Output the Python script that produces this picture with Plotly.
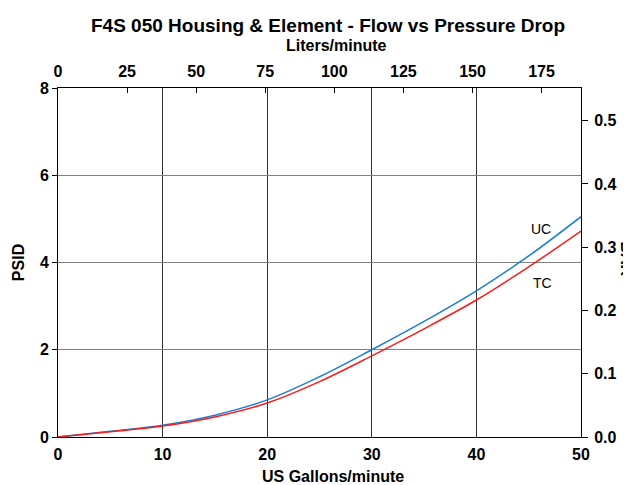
import plotly.graph_objects as go

# Data (US gallons/minute vs PSID)
gpm = [0, 5, 10, 15, 20, 25, 30, 35, 40, 45, 50]
uc_psid = [0, 0.13, 0.27, 0.50, 0.85, 1.38, 2.00, 2.65, 3.35, 4.15, 5.05]
tc_psid = [0, 0.12, 0.25, 0.46, 0.78, 1.27, 1.86, 2.48, 3.14, 3.90, 4.72]

bottom_ticks = [0, 10, 20, 30, 40, 50]
left_ticks = [0, 2, 4, 6, 8]
top_ticks = [0, 25, 50, 75, 100, 125, 150, 175]
right_ticks = [0.0, 0.1, 0.2, 0.3, 0.4, 0.5]

L_PER_GAL = 3.78541
BAR_PER_PSI = 0.0689476

FONT = "Liberation Sans, Arial, sans-serif"

fig = go.Figure()
fig.add_trace(go.Scatter(x=gpm, y=uc_psid, mode="lines", line=dict(color="#1a7fd4", width=1.5, shape="spline"),
                         name="UC", showlegend=False))
fig.add_trace(go.Scatter(x=gpm, y=tc_psid, mode="lines", line=dict(color="#ff1a1a", width=1.5, shape="spline"),
                         name="TC", showlegend=False))
# carrier trace for secondary axes
fig.add_trace(go.Scatter(x=[0], y=[0], xaxis="x2", yaxis="y2", mode="markers",
                         marker=dict(opacity=0), hoverinfo="skip", showlegend=False))

tickfont = dict(family=FONT, size=16, color="black", weight="bold")
titlefont = dict(family=FONT, size=16, color="black", weight="bold")

def ann(text, x, y, font, **kw):
    return dict(text=text, xref="paper", yref="paper", x=x, y=y, showarrow=False,
                xanchor="center", yanchor="middle", font=font, **kw)

fig.update_layout(
    width=631, height=485,
    margin=dict(l=50, r=58, t=80, b=56, autoexpand=False),
    paper_bgcolor="white",
    plot_bgcolor="white",
    xaxis=dict(range=[0, 50], tickvals=bottom_ticks, showgrid=True, gridcolor="#333333", gridwidth=1,
               showline=True, linecolor="black", linewidth=1, zeroline=False,
               ticks="", tickfont=tickfont, ticklabelstandoff=3, automargin=False),
    yaxis=dict(range=[0, 8], tickvals=left_ticks, showgrid=True, gridcolor="#808080", gridwidth=1,
               showline=True, linecolor="black", linewidth=1, zeroline=False,
               ticks="outside", ticklen=5, tickcolor="black", tickfont=tickfont, automargin=False),
    xaxis2=dict(range=[0, 50 * L_PER_GAL], tickvals=top_ticks, overlaying="x", side="top",
                showgrid=False, showline=True, linecolor="black", linewidth=1, zeroline=False,
                ticks="inside", ticklen=5, tickcolor="black", tickfont=tickfont,
                ticklabelstandoff=4, automargin=False),
    yaxis2=dict(range=[0, 8 * BAR_PER_PSI], tickvals=right_ticks, tickformat=".1f", overlaying="y", side="right",
                showgrid=False, showline=True, linecolor="black", linewidth=1, zeroline=False,
                ticks="outside", ticklen=6, tickcolor="black", tickfont=tickfont,
                ticklabelstandoff=3, automargin=False),
    annotations=[
        ann("F4S 050 Housing & Element - Flow vs Pressure Drop", 0.516, 1.180,
            dict(family=FONT, size=19, color="black", weight="bold")),
        ann("Liters/minute", 0.533, 1.123, titlefont),
        ann("US Gallons/minute", 0.526, -0.112, titlefont),
        ann("PSID", -0.0765, 0.501, titlefont, textangle=-90),
        ann("BAR", 1.087, 0.51, titlefont, textangle=90),
        dict(text="UC", x=46.2, y=4.77, showarrow=False, font=dict(family=FONT, size=14, color="black")),
        dict(text="TC", x=46.3, y=3.53, showarrow=False, font=dict(family=FONT, size=14, color="black")),
    ],
)

fig.write_html("out.html")
